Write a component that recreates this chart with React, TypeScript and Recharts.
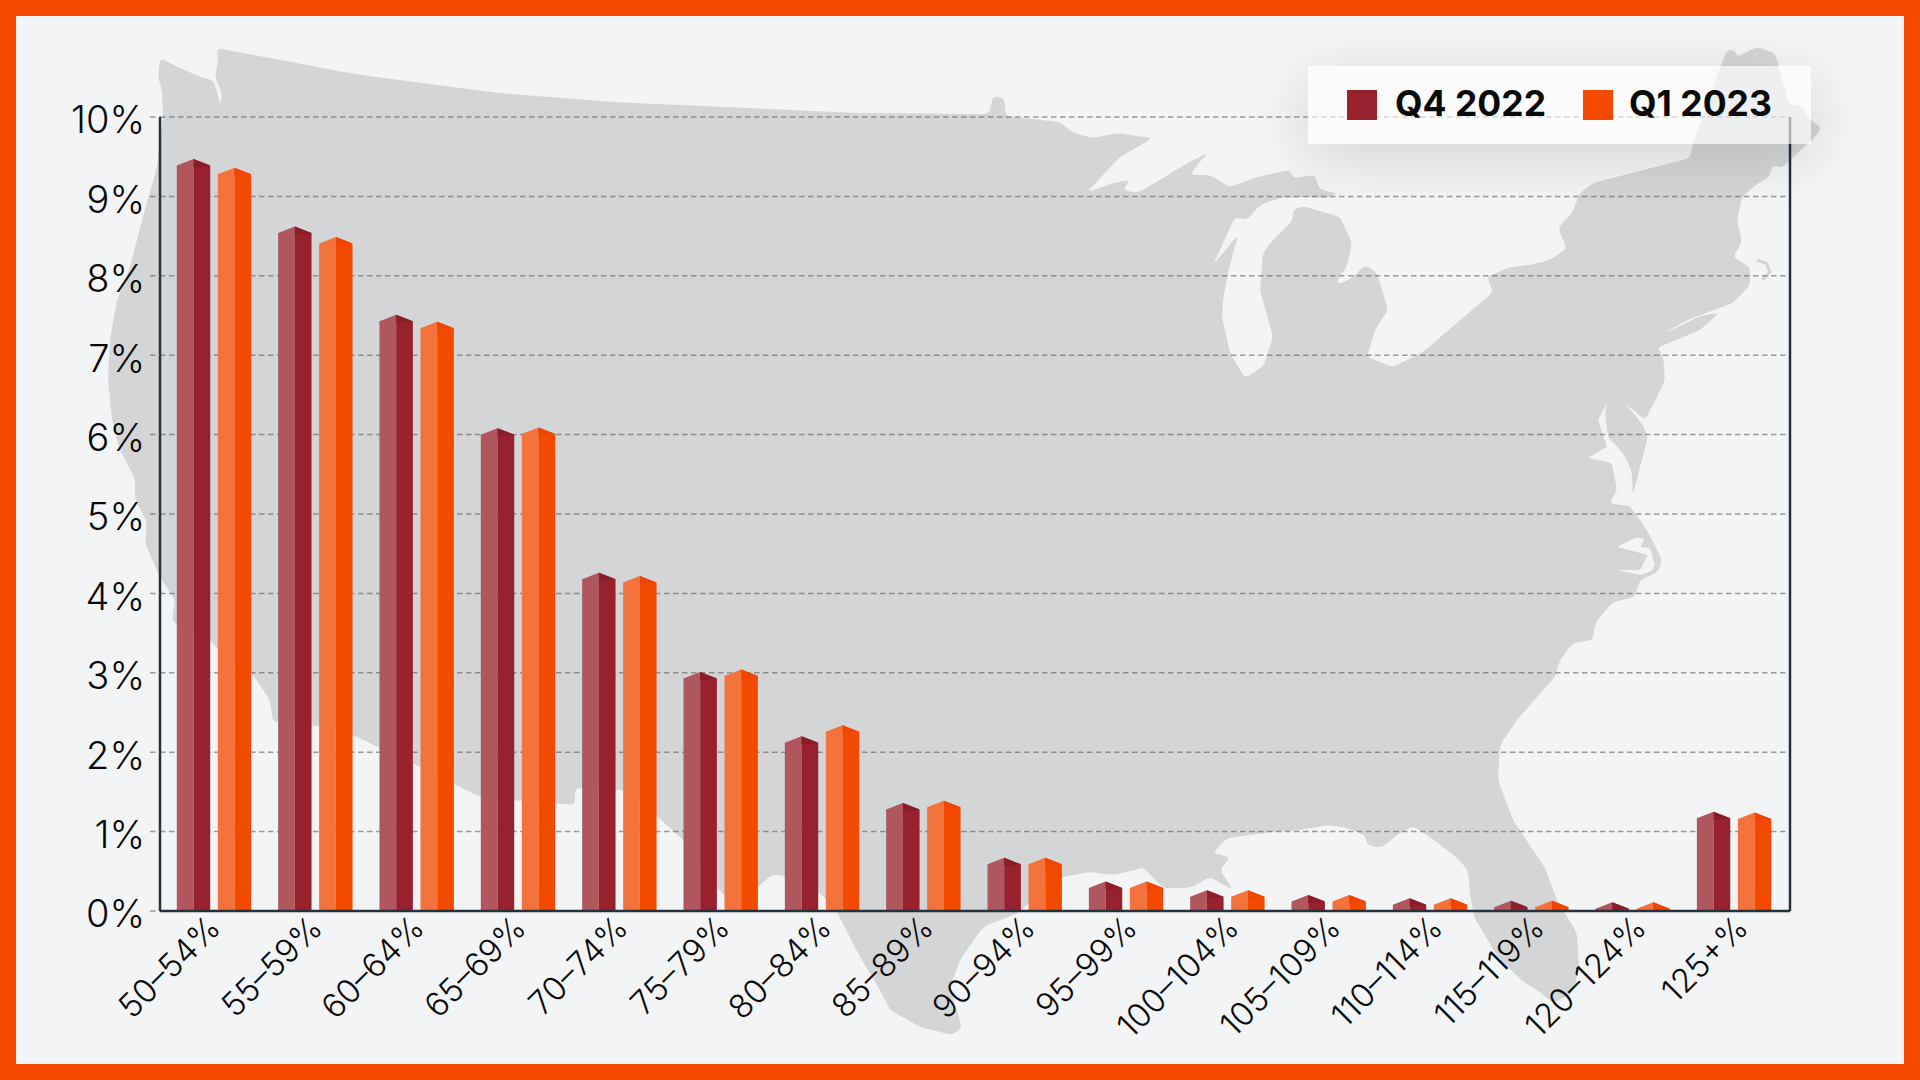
import React from "react";
import { BarChart, Bar, XAxis, YAxis, CartesianGrid, Legend } from "recharts";

const categories = ["50–54%","55–59%","60–64%","65–69%","70–74%","75–79%","80–84%","85–89%","90–94%","95–99%","100–104%","105–109%","110–114%","115–119%","120–124%","125+%"];
const q4Values = [9.47,8.62,7.51,6.08,4.26,3.01,2.2,1.36,0.67,0.37,0.26,0.2,0.16,0.13,0.11,1.25];
const q1Values = [9.36,8.49,7.42,6.09,4.22,3.04,2.34,1.39,0.67,0.37,0.26,0.2,0.16,0.13,0.11,1.24];
const yTicks = [0,1,2,3,4,5,6,7,8,9,10];
const rows = categories.map((band, i) => ({ band, q4: q4Values[i], q1: q1Values[i] }));

const ORANGE = "#f34a00";
const BG = "#f3f4f6";
const LAND = "#d3d5d7";
const AXIS = "#24323f";
const INK = "#0a0a0a";
const FONT = "Inter, sans-serif";

const US_OUTLINE = "160 58 180 68 203 78 213 80 218 95 220 106 222 92 215 78 218 62 217 48 333 70 367 76 500 93 612 102 857 113 989 114 993 96 1004 98 1006 116 1060 122 1073 133 1093 138 1117 133 1137 136 1153 138 1120 157 1087 192 1117 182 1130 180 1123 190 1137 193 1160 180 1187 163 1208 153 1197 165 1190 175 1210 175 1230 187 1257 177 1290 170 1293 178 1315 175 1320 190 1338 193 1327 198 1303 197 1280 198 1260 205 1247 220 1235 217 1213 265 1238 235 1228 273 1223 300 1222 317 1230 353 1245 378 1263 367 1273 337 1260 290 1263 253 1273 240 1293 220 1293 210 1303 206 1340 217 1352 243 1347 267 1338 278 1338 285 1353 277 1365 265 1377 273 1388 310 1375 330 1367 357 1393 367 1423 352 1493 292 1487 277 1510 267 1530 265 1550 260 1567 248 1558 228 1572 213 1580 193 1593 183 1690 158 1692 147 1718 73 1727 50 1735 50 1737 57 1757 47 1775 53 1783 83 1790 105 1802 105 1808 118 1822 128 1812 140 1793 157 1782 168 1772 165 1770 177 1758 183 1742 197 1737 220 1742 242 1733 257 1750 267 1750 285 1733 303 1687 320 1665 333 1703 315 1719 313 1700 330 1657 348 1663 355 1665 380 1657 397 1645 420 1625 403 1643 425 1648 437 1640 467 1633 495 1627 503 1635 513 1647 530 1662 560 1658 572 1640 580 1635 597 1613 602 1595 623 1593 640 1573 643 1560 660 1555 677 1537 697 1517 720 1500 745 1498 780 1513 820 1545 868 1557 900 1577 933 1579 967 1573 993 1553 1003 1541 993 1521 980 1498 957 1474 917 1470 893 1468 870 1456 857 1434 840 1413 826 1397 835 1381 848 1367 845 1365 835 1347 828 1328 825 1300 830 1273 832 1227 838 1213 853 1230 857 1220 870 1233 890 1210 877 1190 888 1163 888 1143 867 1135 870 1113 875 1090 872 1063 877 1047 887 1027 905 1020 912 983 927 960 960 950 987 962 1028 952 1035 920 1027 890 1010 880 990 860 957 837 912 822 895 800 880 773 874 760 885 742 905 725 897 712 880 683 840 658 817 623 790 575 788 575 805 513 800 480 797 420 767 353 735 312 725 273 722 270 700 253 675 217 648 210 640 172 622 175 600 160 577 145 543 147 522 135 500 135 478 120 450 112 420 108 380 110 340 117 300 129 270 147 202 157 167 163 117 162 90 158 77";
const CHESAPEAKE = "1607 403 1598 420 1607 447 1588 458 1612 463 1617 490 1610 503 1620 505 1640 507 1633 497 1632 475 1630 467 1623 453 1608 437 1605 413";
const PAMLICO = "1617 547 1637 537 1645 540 1640 547 1650 548 1655 565 1652 571 1640 575 1617 570 1640 570 1648 555 1625 549";
const CAPE_COD = "M1762 280 L1770 272 L1766 263 L1757 260";

// Soft outline for the decorative backdrop: rounds each corner of a traced polygon.
function softOutline(list: string, r = 5) {
  const n = list.trim().split(/\s+/).map(Number);
  const pts: number[][] = [];
  for (let i = 0; i < n.length; i += 2) pts.push([n[i], n[i + 1]]);
  let d = "";
  pts.forEach((p, i) => {
    const a = pts[(i - 1 + pts.length) % pts.length];
    const b = pts[(i + 1) % pts.length];
    const la = Math.hypot(a[0] - p[0], a[1] - p[1]);
    const lb = Math.hypot(b[0] - p[0], b[1] - p[1]);
    const ta = Math.min(r / la, 0.5);
    const tb = Math.min(r / lb, 0.5);
    const s = [p[0] + (a[0] - p[0]) * ta, p[1] + (a[1] - p[1]) * ta];
    const e = [p[0] + (b[0] - p[0]) * tb, p[1] + (b[1] - p[1]) * tb];
    d += `${i === 0 ? "M" : "L"}${s[0].toFixed(1)} ${s[1].toFixed(1)} Q${p[0]} ${p[1]} ${e[0].toFixed(1)} ${e[1].toFixed(1)} `;
  });
  return d + "Z";
}

function ridgedBar(light: string, dark: string, capDark: string) {
  return (props: any) => {
    const { x, y, width, height } = props;
    const base = y + height;
    const mid = x + width / 2;
    const shoulder = Math.min(y + 6.5, base - 1.5);
    return (
      <g>
        <polygon points={`${x},${base} ${x},${shoulder} ${mid},${y} ${mid},${base}`} fill={light} />
        <polygon points={`${mid},${base} ${mid},${y} ${x + width},${shoulder} ${x + width},${base}`} fill={dark} />
        <polygon points={`${mid},${y} ${x + width},${shoulder} ${mid},${shoulder + 2}`} fill={capDark} />
      </g>
    );
  };
}

function SlantTick({ x, y, payload, index }: any) {
  const px = x + 8 + index * 0.5;
  const py = y + 11;
  return (
    <text
      x={px}
      y={py}
      transform={`rotate(-45 ${px} ${py})`}
      textAnchor="end"
      fontFamily={FONT}
      fontWeight={300}
      fontSize={33}
      fill={INK}
    >
      {payload.value}
    </text>
  );
}

function KeyBox({ payload }: any) {
  const spots = [{ sw: 39, tx: 87 }, { sw: 275, tx: 321 }];
  return (
    <div style={{ position: "relative", width: 503, height: 78, background: "rgba(255,255,255,0.62)", boxShadow: "0 14px 60px rgba(0,0,0,0.13)" }}>
      {(payload || []).map((p: any, i: number) => (
        <React.Fragment key={p.value}>
          <div style={{ position: "absolute", left: spots[i].sw, top: 24, width: 30, height: 30, background: p.color }} />
          <div style={{ position: "absolute", left: spots[i].tx, top: 14, lineHeight: "47px", fontFamily: FONT, fontWeight: 700, fontSize: 35.5, color: INK, whiteSpace: "nowrap" }}>{p.value}</div>
        </React.Fragment>
      ))}
    </div>
  );
}

export default function App() {
  return (
    <div style={{ position: "absolute", left: 0, top: 0, width: 1920, height: 1080, overflow: "hidden", background: BG }}>
      <svg width={1920} height={1080} style={{ position: "absolute", left: 0, top: 0 }}>
        <path d={softOutline(US_OUTLINE)} fill={LAND} />
        <path d={softOutline(CHESAPEAKE, 3)} fill={BG} />
        <path d={softOutline(PAMLICO, 2)} fill={BG} />
        <path d={CAPE_COD} fill="none" stroke={LAND} strokeWidth={3} />
      </svg>
      <div style={{ position: "absolute", left: 0, top: 0, width: 1920, height: 1080, boxSizing: "border-box", border: `16px solid ${ORANGE}` }} />
      <div style={{ position: "absolute", left: 0, top: 0 }}>
        <BarChart
          width={1920}
          height={1080}
          data={rows}
          margin={{ top: 117, right: 129, bottom: 0, left: 0 }}
          barSize={33.4}
          barGap={7.6}
        >
          <CartesianGrid yAxisId="left" horizontal vertical={false} stroke="rgba(90,90,90,0.58)" strokeWidth={1.5} strokeDasharray="5.5 3.5" />
          <XAxis
            dataKey="band"
            height={169}
            interval={0}
            padding={{ left: 3.8, right: 4.8 }}
            axisLine={{ stroke: AXIS, strokeWidth: 2.5 }}
            tickLine={false}
            tick={<SlantTick />}
          />
          <YAxis
            yAxisId="left"
            width={160}
            domain={[0, 10]}
            ticks={yTicks}
            interval={0}
            tickFormatter={(v: number) => `${v}%`}
            axisLine={{ stroke: AXIS, strokeWidth: 2.5 }}
            tickLine={{ stroke: "rgba(90,90,90,0.58)", strokeWidth: 1.5, strokeDasharray: "5.5 3.5" }}
            tickSize={10}
            tickMargin={5}
            tick={{ fontFamily: FONT, fontWeight: 300, fontSize: 38, fill: INK, dy: 3 }}
          />
          <YAxis yAxisId="right" orientation="right" width={1} domain={[0, 10]} tick={false} tickLine={false} axisLine={{ stroke: AXIS, strokeWidth: 2.5 }} />
          <Bar yAxisId="left" dataKey="q4" name="Q4 2022" fill="#97222d" isAnimationActive={false} shape={ridgedBar("#b0565f", "#97222d", "#8a1d28")} />
          <Bar yAxisId="left" dataKey="q1" name="Q1 2023" fill={ORANGE} isAnimationActive={false} shape={ridgedBar("#f4723c", ORANGE, "#f04500")} />
          <Legend
            layout="horizontal"
            verticalAlign="middle"
            itemSorter={null}
            content={<KeyBox />}
            wrapperStyle={{ position: "absolute", left: 1308, top: 66, right: "auto", bottom: "auto", width: 503, height: 78 }}
          />
        </BarChart>
      </div>
    </div>
  );
}
